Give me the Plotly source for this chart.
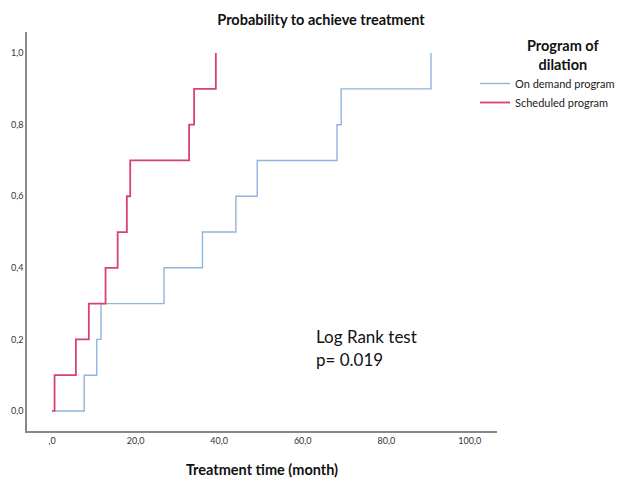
import plotly.graph_objects as go

# Data
sched_t = [0, 0.6, 5.7, 8.8, 12.8, 15.7, 17.9, 18.7, 32.8, 34.0, 39.2]
sched_p = [0.0, 0.1, 0.2, 0.3, 0.4, 0.5, 0.6, 0.7, 0.8, 0.9, 1.0]
demand_t = [0.6, 7.7, 10.7, 11.7, 26.8, 36.0, 44.0, 49.1, 68.2, 69.2, 90.7]
demand_p = [0.0, 0.1, 0.2, 0.3, 0.4, 0.5, 0.6, 0.7, 0.8, 0.9, 1.0]

x_tickvals = [0, 20, 40, 60, 80, 100]
x_ticktext = [",0", "20,0", "40,0", "60,0", "80,0", "100,0"]
y_tickvals = [0.0, 0.2, 0.4, 0.6, 0.8, 1.0]
y_ticktext = ["0,0", "0,2", "0,4", "0,6", "0,8", "1,0"]

FONT = "Lato"
W, H = 620, 470  # page adds an 8px body margin

fig = go.Figure()
fig.add_trace(go.Scatter(x=demand_t, y=demand_p, mode="lines", line_shape="hv",
                         name="On demand program",
                         line=dict(color="#8fb4e0", width=1.4)))
fig.add_trace(go.Scatter(x=sched_t, y=sched_p, mode="lines", line_shape="hv",
                         name="Scheduled program",
                         line=dict(color="#d9426f", width=1.8)))

fig.update_layout(
    width=W, height=H,
    margin=dict(l=19, r=131, t=24, b=47, autoexpand=False),
    paper_bgcolor="white", plot_bgcolor="white",
    font=dict(family=FONT, color="#222"),
    title=dict(text="<b>Probability to achieve treatment</b>", x=313 / W, xref="container",
               xanchor="center", y=1 - 12 / H, yref="container", yanchor="middle",
               font=dict(size=14.5, family=FONT, color="#111")),
    showlegend=True,
    legend=dict(xref="container", yref="container", x=467 / W, xanchor="left",
                y=1 - 61 / H, yanchor="top",
                font=dict(size=11, family=FONT, color="#222"),
                itemwidth=30, tracegroupgap=0, bgcolor="rgba(0,0,0,0)"),
    xaxis=dict(range=[-6, 106.5], showgrid=False, zeroline=False, showline=True,
               linecolor="#888", linewidth=1.5, ticks="",
               tickvals=x_tickvals, ticktext=x_ticktext,
               tickfont=dict(size=9, family=FONT, color="#333"),
               title=dict(text="<b>Treatment time (month)</b>", standoff=20,
                          font=dict(size=14.5, family=FONT, color="#111"))),
    yaxis=dict(range=[-0.056, 1.059], showgrid=False, zeroline=False, showline=True,
               linecolor="#888", linewidth=1.5, ticks="",
               tickvals=y_tickvals, ticktext=y_ticktext,
               tickfont=dict(size=9, family=FONT, color="#333")),
)

# Legend title (centered two-line block), positioned relative to plot area
fig.add_annotation(x=(555 - 19) / 470, y=(423 - 47) / 399, xref="paper", yref="paper",
                   text="<b>Program of<br>dilation</b>", showarrow=False,
                   xanchor="center", yanchor="middle", align="center",
                   font=dict(size=14.5, family=FONT, color="#111"))

fig.add_annotation(x=62.7, y=0.207, xref="x", yref="y", text="Log Rank test",
                   showarrow=False, xanchor="left", yanchor="middle",
                   font=dict(size=17, family=FONT, color="#111"))
fig.add_annotation(x=62.7, y=0.145, xref="x", yref="y", text="p= 0.019",
                   showarrow=False, xanchor="left", yanchor="middle",
                   font=dict(size=17, family=FONT, color="#111"))

fig.write_html("out.html")
